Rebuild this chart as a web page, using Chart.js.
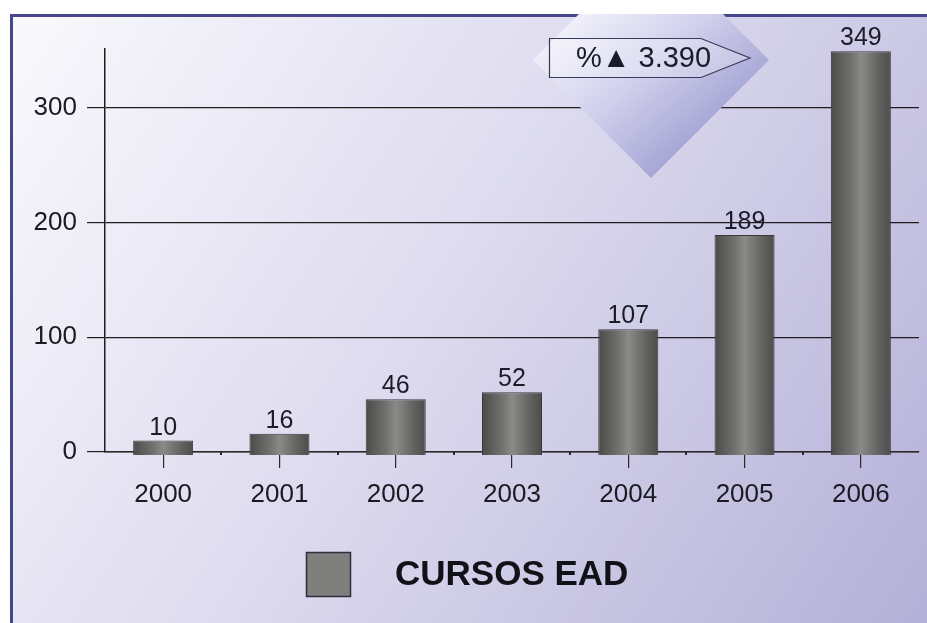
<!DOCTYPE html>
<html>
<head>
<meta charset="utf-8">
<script src="https://cdn.jsdelivr.net/npm/chart.js@4"></script>
<style>
  html, body { margin: 0; padding: 0; background: #ffffff; }
  #wrap { width: 927px; height: 623px; position: relative; }
</style>
</head>
<body>
<div id="wrap"><canvas id="c" width="927" height="623"></canvas></div>
<script>
const categories = ['2000', '2001', '2002', '2003', '2004', '2005', '2006'];
const cursosEad = [10, 16, 46, 52, 107, 189, 349];
const seriesLabel = 'CURSOS EAD';
const yTickValues = [0, 100, 200, 300];
const calloutText = '%\u25B2 3.390';

const FONT = "'Liberation Sans', Arial, sans-serif";
const BAR_PCT = 0.516;

function barGradient(c) {
  const chart = c.chart;
  const xs = chart.scales && chart.scales.x;
  if (!xs || c.type !== 'data' || !chart.chartArea) return '#6e6e6e';
  const cx = xs.getPixelForValue(c.dataIndex);
  const w = (xs.width / categories.length) * BAR_PCT;
  const g = chart.ctx.createLinearGradient(cx - w / 2, 0, cx + w / 2, 0);
  g.addColorStop(0, '#4a4a48');
  g.addColorStop(0.15, '#5c5c5a');
  g.addColorStop(0.35, '#727270');
  g.addColorStop(0.5, '#8a8a88');
  g.addColorStop(0.62, '#7a7a78');
  g.addColorStop(0.8, '#626260');
  g.addColorStop(1, '#4c4c4a');
  return g;
}

const backgroundPlugin = {
  id: 'bgFrame',
  beforeDraw(chart) {
    const ctx = chart.ctx;
    const W = chart.width, H = chart.height;
    ctx.save();
    ctx.fillStyle = '#ffffff';
    ctx.fillRect(0, 0, W, H);
    const g = ctx.createLinearGradient(10, 14, W, H);
    g.addColorStop(0, '#f9f9fd');
    g.addColorStop(0.45, '#dedcef');
    g.addColorStop(1, '#b4b0d8');
    ctx.fillStyle = g;
    ctx.fillRect(10, 14, W - 10, H - 14);
    ctx.strokeStyle = '#46468a';
    ctx.lineWidth = 3;
    ctx.beginPath();
    ctx.moveTo(11.5, H);
    ctx.lineTo(11.5, 15.5);
    ctx.lineTo(W, 15.5);
    ctx.stroke();
    ctx.restore();
  },
  afterDraw(chart) {
    // small marks between categories on the x axis
    const ctx = chart.ctx;
    const xs = chart.scales.x;
    const y0 = chart.scales.y.getPixelForValue(0);
    ctx.save();
    ctx.fillStyle = '#2a2a2a';
    for (let i = 0; i < categories.length - 1; i++) {
      const bx = (xs.getPixelForValue(i) + xs.getPixelForValue(i + 1)) / 2;
      ctx.fillRect(Math.round(bx) - 1, y0, 2, 3);
    }
    ctx.restore();
  }
};

const calloutPlugin = {
  id: 'callout',
  beforeDatasetsDraw(chart) {
    const ctx = chart.ctx;
    ctx.save();
    ctx.beginPath();
    ctx.rect(10, 14, chart.width - 10, chart.height - 14);
    ctx.clip();
    // diamond
    const cx = 651, cy = 60, r = 118;
    const g = ctx.createLinearGradient(cx - 70, cy - 70, cx + 70, cy + 90);
    g.addColorStop(0, '#f6f6fc');
    g.addColorStop(0.45, '#d4d3ee');
    g.addColorStop(1, '#9a9acf');
    ctx.fillStyle = g;
    ctx.beginPath();
    ctx.moveTo(cx, cy - r);
    ctx.lineTo(cx + r, cy);
    ctx.lineTo(cx, cy + r);
    ctx.lineTo(cx - r, cy);
    ctx.closePath();
    ctx.fill();
    // arrow box
    ctx.beginPath();
    ctx.moveTo(549.5, 38.5);
    ctx.lineTo(701, 38.5);
    ctx.lineTo(750, 58);
    ctx.lineTo(701, 77.5);
    ctx.lineTo(549.5, 77.5);
    ctx.closePath();
    ctx.fillStyle = 'rgba(255,255,255,0.25)';
    ctx.fill();
    ctx.strokeStyle = '#3a3a5a';
    ctx.lineWidth = 1.2;
    ctx.stroke();
    ctx.fillStyle = '#1a1a2a';
    ctx.font = '29px ' + FONT;
    ctx.textAlign = 'left';
    ctx.textBaseline = 'middle';
    ctx.fillText(calloutText, 576, 59);
    ctx.restore();
  }
};

const valueLabelPlugin = {
  id: 'valueLabels',
  afterDatasetsDraw(chart) {
    const ctx = chart.ctx;
    const meta = chart.getDatasetMeta(0);
    ctx.save();
    ctx.fillStyle = '#1c1c28';
    ctx.font = '25px ' + FONT;
    ctx.textAlign = 'center';
    ctx.textBaseline = 'alphabetic';
    meta.data.forEach((bar, i) => {
      ctx.fillText(String(cursosEad[i]), bar.x, bar.y - 6);
    });
    ctx.restore();
  }
};

const legendPlugin = {
  id: 'customLegend',
  afterDraw(chart) {
    const ctx = chart.ctx;
    ctx.save();
    ctx.fillStyle = '#7f7f7d';
    ctx.fillRect(306, 552, 45, 45);
    ctx.strokeStyle = '#2e2e3a';
    ctx.lineWidth = 1.5;
    ctx.strokeRect(306.5, 552.5, 44, 44);
    ctx.fillStyle = '#111118';
    ctx.font = 'bold 35px ' + FONT;
    ctx.textAlign = 'left';
    ctx.textBaseline = 'middle';
    ctx.fillText(seriesLabel, 395, 575);
    ctx.restore();
  }
};

new Chart(document.getElementById('c'), {
  type: 'bar',
  data: {
    labels: categories,
    datasets: [{
      label: seriesLabel,
      data: cursosEad,
      base: -2.6,
      clip: false,
      backgroundColor: barGradient,
      borderColor: '#3a3a3a',
      borderWidth: 1,
      barPercentage: BAR_PCT,
      categoryPercentage: 1.0
    }]
  },
  options: {
    responsive: false,
    animation: false,
    devicePixelRatio: 1,
    layout: { padding: { top: 49, right: 8, left: 0, bottom: 0 } },
    plugins: { legend: { display: false }, tooltip: { enabled: false } },
    scales: {
      x: {
        offset: true,
        grid: { offset: false, drawOnChartArea: false, drawTicks: true, tickLength: 16, color: '#2a2a2a', lineWidth: 1.2 },
        border: { display: true, color: '#2a2a2a', width: 1.5 },
        ticks: { color: '#1a1a22', font: { family: FONT, size: 26 }, padding: 11, maxRotation: 0 },
        afterFit(s) { s.height = 171; }
      },
      y: {
        min: 0,
        max: 351,
        afterBuildTicks(s) { s.ticks = yTickValues.map(v => ({ value: v })); },
        grid: { color: '#1e1e1e', lineWidth: 1.2, tickLength: 18 },
        border: { display: true, color: '#1e1e1e', width: 1.5 },
        ticks: { color: '#1a1a22', font: { family: FONT, size: 26 }, padding: 10 },
        afterFit(s) { s.width = 105; }
      }
    }
  },
  plugins: [backgroundPlugin, calloutPlugin, valueLabelPlugin, legendPlugin]
});
</script>
</body>
</html>
